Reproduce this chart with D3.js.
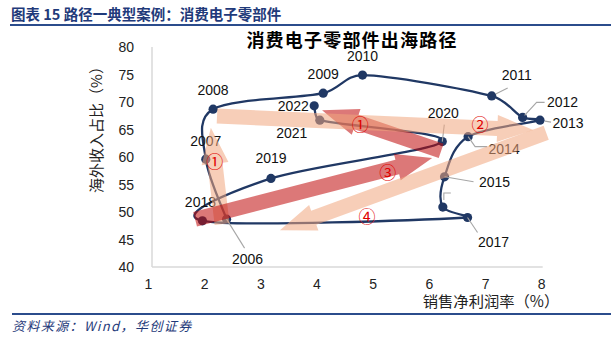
<!DOCTYPE html>
<html><head><meta charset="utf-8">
<script src="https://cdn.jsdelivr.net/npm/d3@7"></script>
<style>body{margin:0;background:#fff;} svg{display:block;}</style>
</head><body>
<svg id="c" width="611" height="340"></svg>
<script>
// ---- data ----
const years = ["2006","2007","2008","2009","2010","2011","2012","2013","2014","2015","2016","2017","2018","2019","2020","2021","2022"];
const netMargin = [2.39,2.02,2.15,4.11,4.81,7.11,7.66,7.97,6.69,6.27,6.24,6.68,1.96,3.18,6.23,4.05,3.95];
const overseasShare = [48.7,59.6,68.7,71.6,74.9,71.1,67.2,66.7,63.7,56.4,50.9,49.0,48.4,56.1,62.8,66.7,69.3];
const xTicks = [1,2,3,4,5,6,7,8];
const yTicks = [40,45,50,55,60,65,70,75,80];
const arrowNames = ["①","①","②","③","④"];
const arrowKind = ["light","dark","light","dark","light"];
const arrowFrom = [[2.31,47.8],[6.21,61.1],[2.22,67.45],[1.83,48.7],[8.08,64.4]];
const arrowTo   = [[2.11,65.3],[4.09,68.5],[7.85,64.9],[6.05,59.8],[3.34,46.7]];
const arrowLabelAt = [[2.18,59.1],[4.77,65.8],[6.90,65.8],[5.26,57.1],[4.89,49.1]];

// ---- layout / style ----
const svg = d3.select("#c");
const x = d3.scaleLinear([1,8],[148.5,541.7]);
const y = d3.scaleLinear([40,80],[267,47]);
const navy = "#203864";
const numFont = "'Liberation Sans', Arial, sans-serif";
const cjk = "'Noto Sans CJK SC', sans-serif";

// label placement (pixel offsets from marker: label center, and leader polyline)
const labelStyle = {
  "2006":{dx:21,dy:40,leader:[[0,0],[18,29]]},
  "2007":{dx:0,dy:-18},
  "2008":{dx:0,dy:-19},
  "2009":{dx:0,dy:-19},
  "2010":{dx:0,dy:-19},
  "2011":{dx:25,dy:-21,leader:[[4,-2],[16,-8]]},
  "2012":{dx:40,dy:-15,leader:[[2,-2],[14,-15],[22,-15]]},
  "2013":{dx:28,dy:3,leader:[[5,1],[11,2]]},
  "2014":{dx:36,dy:12,leader:[[0,0],[7,10],[19,10]]},
  "2015":{dx:50,dy:5,leader:[[0,0],[29,5]]},
  "2016":{hidden:true,leader:[[1,-7],[1,-14],[8,-14]]},
  "2017":{dx:26,dy:24,leader:[[0,0],[10,15]]},
  "2018":{dx:-2,dy:-19},
  "2019":{dx:0,dy:-20},
  "2020":{dx:1,dy:-29,leader:[[0,0],[2,-17]]},
  "2021":{dx:-28,dy:13},
  "2022":{dx:-21,dy:0}
};

svg.append("rect").attr("width",611).attr("height",340).attr("fill","#fff");

// header
svg.append("text").attr("x",11).attr("y",20)
  .attr("font-family",cjk).attr("font-weight",700).attr("font-size",14.5)
  .attr("fill","#1f3a7a").text("图表 15 路径一典型案例：消费电子零部件");
svg.append("line").attr("x1",10).attr("x2",611).attr("y1",25).attr("y2",25)
  .attr("stroke","#2b4c8c").attr("stroke-width",2);
// footer
svg.append("line").attr("x1",12).attr("x2",611).attr("y1",314).attr("y2",314)
  .attr("stroke","#2b4c8c").attr("stroke-width",2);
svg.append("text").attr("x",12).attr("y",331)
  .attr("font-family",cjk).attr("font-style","italic").attr("font-size",13)
  .attr("letter-spacing",1.4).attr("fill","#1f3a7a").text("资料来源：Wind，华创证券");

// chart title
svg.append("text").attr("x",352).attr("y",47).attr("text-anchor","middle")
  .attr("font-family",cjk).attr("font-weight",700).attr("font-size",18)
  .attr("letter-spacing",1.2).attr("fill","#000").text("消费电子零部件出海路径");

// axes
const x0 = x(1)+3.5;
svg.append("line").attr("x1",x0).attr("x2",x0).attr("y1",y(80)).attr("y2",y(40))
  .attr("stroke","#d9d9d9").attr("stroke-width",1.5);
svg.append("line").attr("x1",x0).attr("x2",x(8)+1).attr("y1",y(40)).attr("y2",y(40))
  .attr("stroke","#d9d9d9").attr("stroke-width",1.5);

svg.selectAll(".yt").data(yTicks).join("text").attr("class","yt")
  .attr("x",134).attr("y",d=>y(d)).attr("dy","0.36em").attr("text-anchor","end")
  .attr("font-family",numFont).attr("font-size",14).attr("fill","#222").text(d=>d);
svg.selectAll(".xt").data(xTicks).join("text").attr("class","xt")
  .attr("x",d=>x(d)).attr("y",284).attr("dy","0.36em").attr("text-anchor","middle")
  .attr("font-family",numFont).attr("font-size",14).attr("fill","#222").text(d=>d);

svg.append("text").attr("transform","translate(97,126) rotate(-90)")
  .attr("text-anchor","middle").attr("dy","0.36em")
  .attr("font-family",cjk).attr("font-size",15).attr("fill","#222").text("海外收入占比（%）");
svg.append("text").attr("x",491).attr("y",301).attr("dy","0.36em").attr("text-anchor","middle")
  .attr("font-family",cjk).attr("font-size",15.3).attr("fill","#222").text("销售净利润率（%）");

// smoothed path (cardinal tangents, control arms limited by neighbouring segment length)
const pts = years.map((yr,i)=>({yr, px:x(netMargin[i]), py:y(overseasShare[i])}));
function smoothPath(P){
  const n=P.length, T=[];
  for(let i=0;i<n;i++){
    const a=P[Math.max(0,i-1)], b=P[Math.min(n-1,i+1)];
    T.push([(b.px-a.px)/6,(b.py-a.py)/6]);
  }
  const p=d3.path(); p.moveTo(P[0].px,P[0].py);
  for(let i=0;i<n-1;i++){
    const A=P[i],B=P[i+1], seg=Math.hypot(B.px-A.px,B.py-A.py), lim=0.4*seg;
    let t0=T[i], t1=T[i+1];
    const l0=Math.hypot(t0[0],t0[1]), l1=Math.hypot(t1[0],t1[1]);
    const s0=l0>lim?lim/l0:1, s1=l1>lim?lim/l1:1;
    p.bezierCurveTo(A.px+t0[0]*s0,A.py+t0[1]*s0,B.px-t1[0]*s1,B.py-t1[1]*s1,B.px,B.py);
  }
  return p.toString();
}
svg.append("path").attr("d",smoothPath(pts)).attr("fill","none")
  .attr("stroke",navy).attr("stroke-width",2.3);
svg.selectAll(".mk").data(pts).join("circle").attr("class","mk")
  .attr("cx",d=>d.px).attr("cy",d=>d.py).attr("r",4.6).attr("fill",navy);

// leader lines
pts.forEach(p=>{
  const s = labelStyle[p.yr];
  if (s.leader) {
    svg.append("polyline")
      .attr("points", s.leader.map(q=>[p.px+q[0],p.py+q[1]].join(",")).join(" "))
      .attr("fill","none").attr("stroke","#a6a6a6").attr("stroke-width",1.1);
  }
});
// year labels
svg.selectAll(".yl").data(pts.filter(p=>!labelStyle[p.yr].hidden)).join("text").attr("class","yl")
  .attr("x",d=>d.px+labelStyle[d.yr].dx).attr("y",d=>d.py+labelStyle[d.yr].dy)
  .attr("dy","0.36em").attr("text-anchor","middle")
  .attr("font-family",numFont).attr("font-size",14).attr("fill","#111").text(d=>d.yr);

// arrows
function arrowPath(x0,y0,x1,y1,bw,hw,hl){
  const dx=x1-x0, dy=y1-y0, L=Math.hypot(dx,dy);
  const ux=dx/L, uy=dy/L, nx=-uy, ny=ux;
  const bx=x1-ux*hl, by=y1-uy*hl;
  const P=[[x0+nx*bw,y0+ny*bw],[bx+nx*bw,by+ny*bw],[bx+nx*hw,by+ny*hw],[x1,y1],
           [bx-nx*hw,by-ny*hw],[bx-nx*bw,by-ny*bw],[x0-nx*bw,y0-ny*bw]];
  return "M"+P.map(p=>p.join(",")).join("L")+"Z";
}
arrowNames.forEach((nm,i)=>{
  const light = arrowKind[i]==="light";
  svg.append("path")
    .attr("d",arrowPath(x(arrowFrom[i][0]),y(arrowFrom[i][1]),x(arrowTo[i][0]),y(arrowTo[i][1]),7.5,13.5,36))
    .attr("fill", light ? "rgb(240,165,125)" : "rgb(192,10,10)")
    .attr("opacity", 0.55);
});
arrowNames.forEach((nm,i)=>{
  svg.append("text").attr("x",x(arrowLabelAt[i][0])).attr("y",y(arrowLabelAt[i][1]))
    .attr("dy","0.36em").attr("text-anchor","middle")
    .attr("font-family",cjk).attr("font-size",17).attr("fill","#e00000").text(nm);
});
</script>
</body></html>
